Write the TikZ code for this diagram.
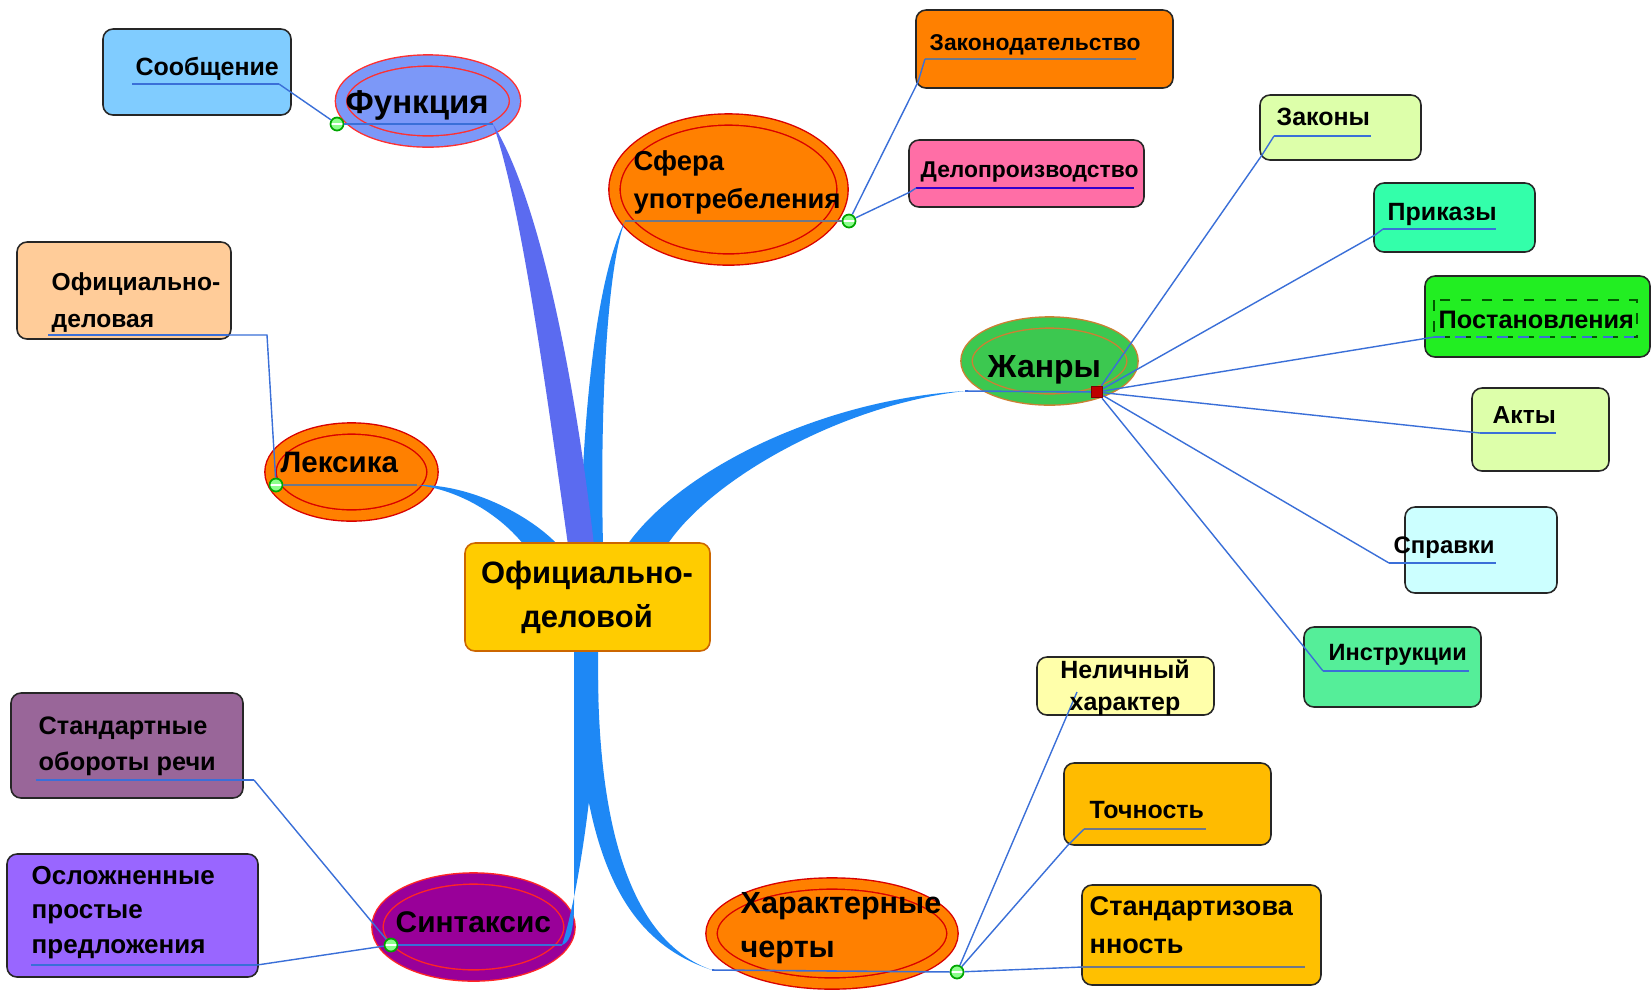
\documentclass[tikz,border=0pt]{standalone}
\usepackage{fontspec}
\setmainfont{Liberation Sans}
\usepackage{tikz}
\usetikzlibrary{shapes.geometric}

\definecolor{brblue}{HTML}{1E88F5}
\definecolor{brfunc}{HTML}{5B6BF0}
\definecolor{lnblue}{HTML}{3A6FD8}
\definecolor{lngray}{HTML}{707888}
\definecolor{cSoob}{HTML}{80CCFF}
\definecolor{cFunc}{HTML}{7C98F8}
\definecolor{cOrange}{HTML}{FF8000}
\definecolor{cPink}{HTML}{FF6EA6}
\definecolor{cZhan}{HTML}{3CC850}
\definecolor{cPale}{HTML}{DDFFAA}
\definecolor{cPrik}{HTML}{33FFAA}
\definecolor{cPost}{HTML}{22EE22}
\definecolor{cSprav}{HTML}{CCFFFF}
\definecolor{cInstr}{HTML}{55EE99}
\definecolor{cNel}{HTML}{FFFFAA}
\definecolor{cTochn}{HTML}{FFBB00}
\definecolor{cStandz}{HTML}{FFC000}
\definecolor{cSint}{HTML}{990099}
\definecolor{cStob}{HTML}{996699}
\definecolor{cOsl}{HTML}{9966FF}
\definecolor{cOfdel}{HTML}{FFCC99}
\definecolor{cCenter}{HTML}{FFCC00}
\newcommand\fsz[2]{\fontsize{#1}{#2}\selectfont}

\begin{document}
\begin{tikzpicture}[
		x=0.1mm, y=-0.1mm,
		box/.style={draw=black!85, line width=0.45pt, rounded corners=1mm, inner sep=0},
		oval/.style={ellipse, inner sep=0, line width=0.4pt, double distance=2.8pt},
		txt/.style={inner sep=0, anchor=base west, align=left, font=\bfseries},
		uline/.style={lnblue, line width=0.45pt},
		ugray/.style={lngray, line width=0.5pt},
		link/.style={lnblue, line width=0.4pt},
		gdot/.style={circle, draw=green!65!black, fill=green!45, line width=0.5pt, minimum size=1.3mm, inner sep=0,
			path picture={\draw[white, line width=0.5pt] (path picture bounding box.west) -- (path picture bounding box.east);}},
		rdot/.style={rectangle, draw=red!50!black, fill=red!75!black, minimum size=1.1mm, inner sep=0}
		]
		\fill[white] (0,0) rectangle (1652,991);
		\useasboundingbox (0,0) rectangle (1652,991);

		\node[oval, draw=red!75!pink, fill=cFunc, double=cFunc, minimum width=17.4mm, minimum height=8.1mm] (func) at (428,101) {};
		\node[oval, draw=red!85!black, fill=cOrange, double=cOrange, minimum width=22.8mm, minimum height=14mm] (sfera) at (728.5,189.5) {};
		\node[oval, draw=brown!80!orange, fill=cZhan, double=cZhan, minimum width=16.6mm, minimum height=7.7mm] (zhanry) at (1049.5,361) {};
		\node[oval, draw=red!85!black, fill=cOrange, double=cOrange, minimum width=16.2mm, minimum height=8.7mm] (leksika) at (351.5,472) {};
		\node[oval, draw=red!80!pink, fill=cSint, double=cSint, minimum width=19.2mm, minimum height=9.7mm] (sintaksis) at (473.5,927) {};
		\node[oval, draw=red!85!black, fill=cOrange, double=cOrange, minimum width=24.1mm, minimum height=10mm] (harakter) at (832,933.5) {};

		\node[box, fill=cSoob, minimum width=18.8mm, minimum height=8.6mm] (soob) at (197,72) {};
		\node[box, fill=cOfdel, minimum width=21.4mm, minimum height=9.7mm] (ofdel) at (124,290.5) {};
		\node[box, fill=cOrange, minimum width=25.7mm, minimum height=7.8mm] (zakonod) at (1044.5,49) {};
		\node[box, fill=cPink, minimum width=23.5mm, minimum height=6.7mm] (delopr) at (1026.5,173.5) {};
		\node[box, fill=cPale, minimum width=16.1mm, minimum height=6.5mm] (zakony) at (1340.5,127.5) {};
		\node[box, fill=cPrik, minimum width=16.1mm, minimum height=6.9mm] (prikazy) at (1454.5,217.5) {};
		\node[box, fill=cPost, minimum width=22.5mm, minimum height=8.1mm] (postan) at (1537.5,316.5) {};
		\node[box, fill=cPale, minimum width=13.7mm, minimum height=8.3mm] (akty) at (1540.5,429.5) {};
		\node[box, fill=cSprav, minimum width=15.2mm, minimum height=8.6mm] (spravki) at (1481,550) {};
		\node[box, fill=cInstr, minimum width=17.7mm, minimum height=8mm] (instr) at (1392.5,667) {};
		\node[box, fill=cNel, minimum width=17.7mm, minimum height=5.8mm] (nelich) at (1125.5,686) {};
		\node[box, fill=cTochn, minimum width=20.7mm, minimum height=8.2mm] (tochn) at (1167.5,804) {};
		\node[box, fill=cStandz, minimum width=23.9mm, minimum height=10mm] (standz) at (1201.5,935) {};
		\node[box, fill=cStob, minimum width=23.2mm, minimum height=10.5mm] (stob) at (127,745.5) {};
		\node[box, fill=cOsl, minimum width=25.1mm, minimum height=12.3mm] (oslozh) at (132.5,915.5) {};

		\coordinate (funcU) at (493,124);
		\coordinate (sferaU) at (625,221);
		\coordinate (zhanU) at (965,391);
		\coordinate (leksU) at (417,485);
		\coordinate (sintU) at (562,945);
		\coordinate (harU) at (712,970);

		\fill[brblue] (580,545) .. controls (583,420) and (595,280) .. (sferaU) .. controls (606,270) and (600,420) .. (603,545) -- cycle;
		\fill[brfunc] (568,545) .. controls (545,380) and (520,200) .. (funcU) .. controls (540,200) and (575,380) .. (594,545) -- cycle;
		\fill[brblue] (627,545) .. controls (680,470) and (820,400) .. (zhanU) .. controls (840,405) and (710,480) .. (667,545) -- cycle;
		\fill[brblue] (leksU) .. controls (470,484) and (530,515) .. (558,545) -- (524,545) .. controls (500,515) and (460,490) .. (leksU) -- cycle;
		\fill[brblue] (574,649) -- (574,905) .. controls (574,935) and (568,943) .. (sintU) .. controls (572,915) and (590,830) .. (598,700) -- (598,649) -- cycle;
		\fill[brblue] (575,660) .. controls (580,850) and (620,940) .. (harU) .. controls (640,945) and (600,850) .. (598,680) -- cycle;

		\node[box, draw=orange!80!black, fill=cCenter, minimum width=24.5mm, minimum height=10.8mm] (center) at (587.5,597) {};

		\node[gdot] (fdot) at (337,124) {};
		\node[gdot] (sdot) at (849,221) {};
		\node[rdot] (zdot) at (1097,392) {};
		\node[gdot] (ldot) at (276,485) {};
		\node[gdot] (ndot) at (391,945) {};
		\node[gdot] (hdot) at (957,972) {};

		\coordinate (soobU) at (279,84);
		\coordinate (ofdelU) at (228,335);
		\coordinate (zakonodU) at (925,59);
		\coordinate (deloprU) at (916,188);
		\coordinate (zakonyU) at (1274,136);
		\coordinate (prikazyU) at (1383,229);
		\coordinate (postanU) at (1434,337);
		\coordinate (aktyU) at (1480,433);
		\coordinate (spravkiU) at (1389,563);
		\coordinate (instrU) at (1323,671);
		\coordinate (nelichU) at (1077,692);
		\coordinate (tochnU) at (1084,829);
		\coordinate (standzU) at (1082,967);
		\coordinate (stobU) at (254,780);
		\coordinate (oslozhU) at (257,965);

		\draw[uline] (132,84) -- (soobU);
		\draw[uline] (fdot) -- (funcU);
		\draw[ugray] (sferaU) -- (sdot);
		\draw[ugray] (zakonodU) -- (1136,59);
		\draw[uline, blue!60!violet] (deloprU) -- (1134,188);
		\draw[uline] (zhanU) -- (zdot);
		\draw[uline] (zakonyU) -- (1371,136);
		\draw[uline] (prikazyU) -- (1496,229);
		\draw[dashed, green!35!black, line width=0.3pt] (1434,300) rectangle (1637,337);
		\draw[uline, dashed] (postanU) -- (1637,337);
		\draw[uline] (aktyU) -- (1556,433);
		\draw[uline] (spravkiU) -- (1496,563);
		\draw[uline] (instrU) -- (1469,671);
		\draw[uline] (harU) -- (hdot);
		\draw[ugray] (tochnU) -- (1206,829);
		\draw[ugray] (standzU) -- (1305,967);
		\draw[uline] (ndot) -- (sintU);
		\draw[uline] (36,780) -- (stobU);
		\draw[uline] (31,965) -- (oslozhU);
		\draw[ugray] (ldot) -- (leksU);
		\draw[uline] (48,335) -- (ofdelU);

		\draw[link] (fdot) -- (soobU);
		\draw[link] (ldot) -- (267,335) -- (ofdelU);
		\draw[link] (sdot) -- (918,82) -- (zakonodU);
		\draw[link] (sdot) -- (910,192) -- (deloprU);
		\draw[link] (zdot) -- (1262,155) -- (zakonyU);
		\draw[link] (zdot) -- (1375,235) -- (prikazyU);
		\draw[link] (zdot) -- (postanU);
		\draw[link] (zdot) -- (aktyU);
		\draw[link] (zdot) -- (spravkiU);
		\draw[link] (zdot) -- (1304,647) -- (instrU);
		\draw[link] (hdot) -- (nelichU);
		\draw[link] (hdot) -- (1068,845) -- (tochnU);
		\draw[link] (hdot) -- (standzU);
		\draw[link] (ndot) -- (stobU);
		\draw[link] (ndot) -- (oslozhU);

		% multi-line texts are placed by their last baseline
		\node[txt, font=\bfseries\fsz{7.1}{8}] (soobT) at (135,75) {Сообщение};
		\node[txt, font=\bfseries\fsz{9.4}{11}] (funcT) at (345,113) {Функция};
		\node[txt, font=\bfseries\fsz{7.8}{10.8}] (sferaT) at (633,208) {Сфера\\употребеления};
		\node[txt, font=\bfseries\fsz{6.5}{8}] (zakonodT) at (929,50) {Законодательство};
		\node[txt, font=\bfseries\fsz{6.5}{8}] (deloprT) at (920,177) {Делопроизводство};
		\node[txt, font=\bfseries\fsz{9.1}{11}] (zhanryT) at (987,377) {Жанры};
		\node[txt, font=\bfseries\fsz{7.1}{8}] (zakonyT) at (1276,125) {Законы};
		\node[txt, font=\bfseries\fsz{7.1}{8}] (prikazyT) at (1387,220) {Приказы};
		\node[txt, font=\bfseries\fsz{7.2}{8}] (postanT) at (1438,328) {Постановления};
		\node[txt, font=\bfseries\fsz{7}{8}] (aktyT) at (1492,423) {Акты};
		\node[txt, font=\bfseries\fsz{6.8}{8}] (spravkiT) at (1393,553) {Справки};
		\node[txt, font=\bfseries\fsz{6.7}{8}] (instrT) at (1328,660) {Инструкции};
		\node[txt, anchor=base, align=center, font=\bfseries\fsz{7.1}{9.1}] (nelichT) at (1125,710) {Неличный\\характер};
		\node[txt, font=\bfseries\fsz{7.1}{8}] (tochnT) at (1089,818) {Точность};
		\node[txt, font=\bfseries\fsz{7.7}{10.8}] (standzT) at (1089,953) {Стандартизова\\нность};
		\node[txt, font=\bfseries\fsz{8.7}{12.5}] (harakterT) at (740,957) {Характерные\\черты};
		\node[txt, font=\bfseries\fsz{8.5}{10}] (sintaksisT) at (395,932) {Синтаксис};
		\node[txt, font=\bfseries\fsz{7.2}{10}] (stobT) at (38,770) {Стандартные\\обороты речи};
		\node[txt, font=\bfseries\fsz{7.4}{9.7}] (oslozhT) at (31,953) {Осложненные\\простые\\предложения};
		\node[txt, font=\bfseries\fsz{8.4}{10}] (leksikaT) at (280,472) {Лексика};
		\node[txt, font=\bfseries\fsz{7}{10.5}] (ofdelT) at (51,327) {Официально-\\деловая};
		\node[txt, anchor=base, align=center, font=\bfseries\fsz{8.8}{12.5}] (centerT) at (587,627) {Официально-\\деловой};
		\end{tikzpicture}
\end{document}
